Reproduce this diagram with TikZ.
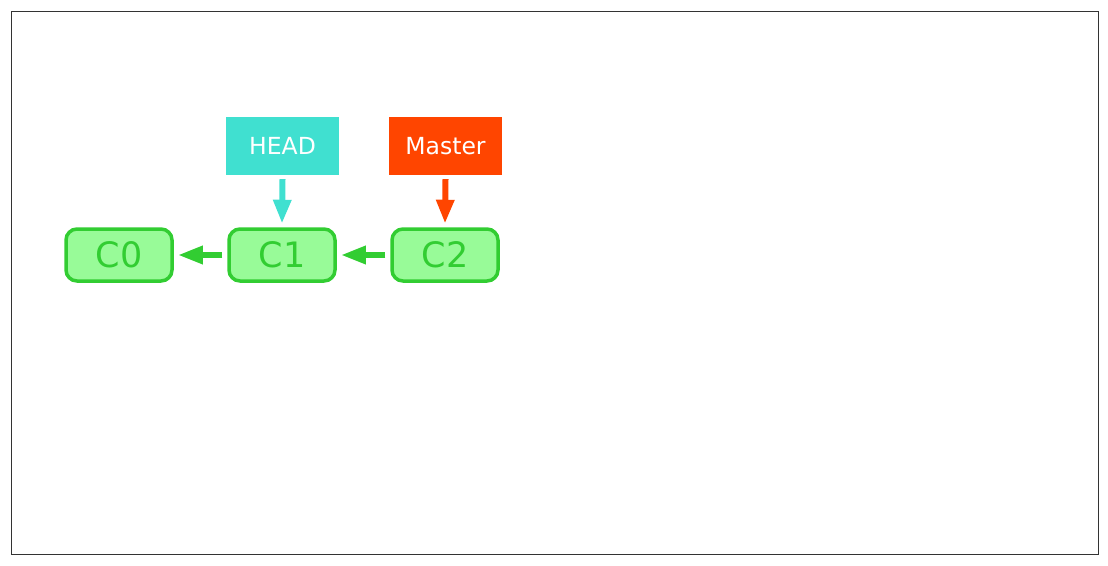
\documentclass[tikz,border=0pt]{standalone}
\usepackage{fontspec}
\setmainfont{DejaVu Sans}
\usetikzlibrary{arrows.meta}
\definecolor{commitfill}{HTML}{98FB98}
\definecolor{commitline}{HTML}{32CD32}
\definecolor{headcol}{HTML}{40E0D0}
\definecolor{mastercol}{HTML}{FF4500}
\definecolor{framecol}{HTML}{333333}
\tikzset{
  commit/.style={draw=commitline, fill=commitfill, line width=3.5pt, rounded corners=11pt,
    minimum width=106pt, minimum height=52pt, inner sep=0pt, text=commitline,
    font=\fontsize{35}{35}\selectfont},
  ref/.style={minimum width=113pt, minimum height=58pt, inner sep=0pt, text=white,
    font=\fontsize{23.5}{23.5}\selectfont},
  parentarrow/.style={commitline, line width=6pt, -{Triangle[length=25pt,width=17pt]}},
  refarrow/.style={line width=6pt, -{Triangle[length=24pt,width=17pt]}}
}
\begin{document}
\begin{tikzpicture}[x=1pt,y=-1pt]
\useasboundingbox (0,0) rectangle (1108,565);
\draw[framecol, line width=1pt] (11.5,11.5) rectangle (1098.5,554.5);
\node[commit] (c0) at (119,255) {C0};
\node[commit] (c1) at (282,255) {C1};
\node[commit] (c2) at (445,255) {C2};
\node[ref, fill=headcol] (head) at (282.5,146) {HEAD};
\node[ref, fill=mastercol] (master) at (445.5,146) {Master};
\draw[parentarrow] ([xshift=-5pt]c1.west) -- ([xshift=4pt]c0.east);
\draw[parentarrow] ([xshift=-5pt]c2.west) -- ([xshift=4pt]c1.east);
\draw[refarrow, headcol] ([yshift=-4pt]head.south) -- ([yshift=3.5pt]c1.north);
\draw[refarrow, mastercol] ([yshift=-4pt]master.south) -- ([yshift=3.5pt]c2.north);
\end{tikzpicture}
\end{document}
